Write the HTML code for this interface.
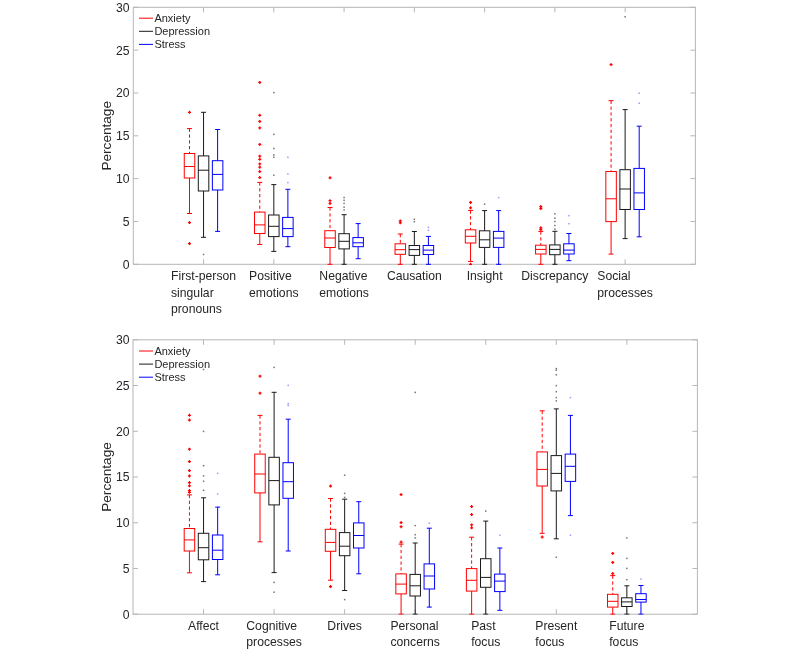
<!DOCTYPE html>
<html><head><meta charset="utf-8"><style>
html,body{margin:0;padding:0;background:#fff;}
body{width:800px;height:651px;overflow:hidden;}
svg{display:block;will-change:transform;font-family:"Liberation Sans",sans-serif;}
</style></head><body>
<svg width="800" height="651" viewBox="0 0 800 651">
<rect width="800" height="651" fill="#fff"/>
<g stroke="#b6b6b6" stroke-width="1.0" fill="none"><line x1="133.3" y1="264.3" x2="138.3" y2="264.3"/><line x1="695.4" y1="264.3" x2="690.4" y2="264.3"/><line x1="133.3" y1="221.47" x2="138.3" y2="221.47"/><line x1="695.4" y1="221.47" x2="690.4" y2="221.47"/><line x1="133.3" y1="178.63" x2="138.3" y2="178.63"/><line x1="695.4" y1="178.63" x2="690.4" y2="178.63"/><line x1="133.3" y1="135.8" x2="138.3" y2="135.8"/><line x1="695.4" y1="135.8" x2="690.4" y2="135.8"/><line x1="133.3" y1="92.97" x2="138.3" y2="92.97"/><line x1="695.4" y1="92.97" x2="690.4" y2="92.97"/><line x1="133.3" y1="50.13" x2="138.3" y2="50.13"/><line x1="695.4" y1="50.13" x2="690.4" y2="50.13"/><line x1="133.3" y1="7.3" x2="138.3" y2="7.3"/><line x1="695.4" y1="7.3" x2="690.4" y2="7.3"/><line x1="203.56" y1="264.3" x2="203.56" y2="259.3"/><line x1="203.56" y1="7.3" x2="203.56" y2="12.3"/><line x1="273.82" y1="264.3" x2="273.82" y2="259.3"/><line x1="273.82" y1="7.3" x2="273.82" y2="12.3"/><line x1="344.09" y1="264.3" x2="344.09" y2="259.3"/><line x1="344.09" y1="7.3" x2="344.09" y2="12.3"/><line x1="414.35" y1="264.3" x2="414.35" y2="259.3"/><line x1="414.35" y1="7.3" x2="414.35" y2="12.3"/><line x1="484.61" y1="264.3" x2="484.61" y2="259.3"/><line x1="484.61" y1="7.3" x2="484.61" y2="12.3"/><line x1="554.88" y1="264.3" x2="554.88" y2="259.3"/><line x1="554.88" y1="7.3" x2="554.88" y2="12.3"/><line x1="625.14" y1="264.3" x2="625.14" y2="259.3"/><line x1="625.14" y1="7.3" x2="625.14" y2="12.3"/><rect x="133.3" y="7.3" width="562.1" height="257" fill="none"/></g>
<g fill="#262626" font-size="12.2"><text x="129.6" y="268.7" text-anchor="end">0</text><text x="129.6" y="225.87" text-anchor="end">5</text><text x="129.6" y="183.03" text-anchor="end">10</text><text x="129.6" y="140.2" text-anchor="end">15</text><text x="129.6" y="97.37" text-anchor="end">20</text><text x="129.6" y="54.53" text-anchor="end">25</text><text x="129.6" y="11.7" text-anchor="end">30</text></g>
<g fill="#262626" font-size="12.2"><text x="171.02" y="279.8">First-person</text><text x="171.02" y="296.5">singular</text><text x="171.02" y="313.2">pronouns</text><text x="249.07" y="279.8">Positive</text><text x="249.07" y="296.5">emotions</text><text x="319.34" y="279.8">Negative</text><text x="319.34" y="296.5">emotions</text><text x="386.88" y="279.8">Causation</text><text x="466.64" y="279.8">Insight</text><text x="521.31" y="279.8">Discrepancy</text><text x="597.34" y="279.8">Social</text><text x="597.34" y="296.5">processes</text></g>
<text transform="translate(110.7 135.8) rotate(-90)" text-anchor="middle" fill="#262626" font-size="13.6">Percentage</text>
<g fill="#262626" font-size="11"><line x1="139" y1="18.2" x2="153" y2="18.2" stroke="#ff0000" stroke-width="1"/><text x="154.4" y="21.8">Anxiety</text><line x1="139" y1="31.3" x2="153" y2="31.3" stroke="#1a1a1a" stroke-width="1"/><text x="154.4" y="34.9">Depression</text><line x1="139" y1="44.4" x2="153" y2="44.4" stroke="#0000ff" stroke-width="1"/><text x="154.4" y="48">Stress</text></g>
<clipPath id="clip7"><rect x="133.3" y="6.7" width="562.1" height="258.2"/></clipPath>
<g clip-path="url(#clip7)">
<g stroke="#ff0000" stroke-width="1.0" fill="none"><line x1="189.51" y1="128.6" x2="189.51" y2="153.5" stroke-dasharray="3.3 2.5"/><line x1="187.01" y1="128.6" x2="192.01" y2="128.6"/><rect x="184.26" y="153.5" width="10.5" height="24.5"/><line x1="184.26" y1="166.5" x2="194.76" y2="166.5"/><line x1="189.51" y1="178" x2="189.51" y2="213.5"/><line x1="187.01" y1="213.5" x2="192.01" y2="213.5"/><path d="M188.01 112.3H191.01M189.51 110.8V113.8" stroke-width="1.25"/><path d="M188.01 222.5H191.01M189.51 221V224" stroke-width="1.25"/><path d="M188.01 243.6H191.01M189.51 242.1V245.1" stroke-width="1.25"/></g>
<g stroke="#1a1a1a" stroke-width="1.0" fill="none"><line x1="203.56" y1="112.3" x2="203.56" y2="155.9"/><line x1="201.06" y1="112.3" x2="206.06" y2="112.3"/><rect x="198.31" y="155.9" width="10.5" height="35.1"/><line x1="198.31" y1="170.2" x2="208.81" y2="170.2"/><line x1="203.56" y1="191" x2="203.56" y2="237.3"/><line x1="201.06" y1="237.3" x2="206.06" y2="237.3"/><rect x="202.81" y="253.75" width="1.5" height="1.5" fill="#1a1a1a" stroke="none" opacity="0.6"/></g>
<g stroke="#0000ff" stroke-width="1.0" fill="none"><line x1="217.62" y1="129.5" x2="217.62" y2="160.7"/><line x1="215.12" y1="129.5" x2="220.12" y2="129.5"/><rect x="212.37" y="160.7" width="10.5" height="29.3"/><line x1="212.37" y1="174.4" x2="222.87" y2="174.4"/><line x1="217.62" y1="190" x2="217.62" y2="231.4"/><line x1="215.12" y1="231.4" x2="220.12" y2="231.4"/></g>
<g stroke="#ff0000" stroke-width="1.0" fill="none"><line x1="259.77" y1="182.4" x2="259.77" y2="212.1" stroke-dasharray="3.3 2.5"/><line x1="257.27" y1="182.4" x2="262.27" y2="182.4"/><rect x="254.52" y="212.1" width="10.5" height="21.4"/><line x1="254.52" y1="224.9" x2="265.02" y2="224.9"/><line x1="259.77" y1="233.5" x2="259.77" y2="244.5"/><line x1="257.27" y1="244.5" x2="262.27" y2="244.5"/><path d="M258.27 82.4H261.27M259.77 80.9V83.9" stroke-width="1.25"/><path d="M258.27 115.3H261.27M259.77 113.8V116.8" stroke-width="1.25"/><path d="M258.27 121.4H261.27M259.77 119.9V122.9" stroke-width="1.25"/><path d="M258.27 127.9H261.27M259.77 126.4V129.4" stroke-width="1.25"/><path d="M258.27 144.4H261.27M259.77 142.9V145.9" stroke-width="1.25"/><path d="M258.27 156.2H261.27M259.77 154.7V157.7" stroke-width="1.25"/><path d="M258.27 159.3H261.27M259.77 157.8V160.8" stroke-width="1.25"/><path d="M258.27 163.9H261.27M259.77 162.4V165.4" stroke-width="1.25"/><path d="M258.27 167.2H261.27M259.77 165.7V168.7" stroke-width="1.25"/><path d="M258.27 171.5H261.27M259.77 170V173" stroke-width="1.25"/><path d="M258.27 177.5H261.27M259.77 176V179" stroke-width="1.25"/></g>
<g stroke="#1a1a1a" stroke-width="1.0" fill="none"><line x1="273.82" y1="184.6" x2="273.82" y2="215"/><line x1="271.32" y1="184.6" x2="276.32" y2="184.6"/><rect x="268.57" y="215" width="10.5" height="21.6"/><line x1="268.57" y1="226.3" x2="279.07" y2="226.3"/><line x1="273.82" y1="236.6" x2="273.82" y2="251.4"/><line x1="271.32" y1="251.4" x2="276.32" y2="251.4"/><rect x="273.07" y="91.85" width="1.5" height="1.5" fill="#1a1a1a" stroke="none" opacity="0.6"/><rect x="273.07" y="133.65" width="1.5" height="1.5" fill="#1a1a1a" stroke="none" opacity="0.6"/><rect x="273.07" y="147.75" width="1.5" height="1.5" fill="#1a1a1a" stroke="none" opacity="0.6"/><rect x="273.07" y="154.25" width="1.5" height="1.5" fill="#1a1a1a" stroke="none" opacity="0.6"/><rect x="273.07" y="156.55" width="1.5" height="1.5" fill="#1a1a1a" stroke="none" opacity="0.6"/><rect x="273.07" y="174.55" width="1.5" height="1.5" fill="#1a1a1a" stroke="none" opacity="0.6"/></g>
<g stroke="#0000ff" stroke-width="1.0" fill="none"><line x1="287.88" y1="189.3" x2="287.88" y2="217.4"/><line x1="285.38" y1="189.3" x2="290.38" y2="189.3"/><rect x="282.63" y="217.4" width="10.5" height="19.2"/><line x1="282.63" y1="228.6" x2="293.13" y2="228.6"/><line x1="287.88" y1="236.6" x2="287.88" y2="246.7"/><line x1="285.38" y1="246.7" x2="290.38" y2="246.7"/><rect x="287.13" y="156.55" width="1.5" height="1.5" fill="#0000ff" stroke="none" opacity="0.4"/><rect x="287.13" y="173.25" width="1.5" height="1.5" fill="#0000ff" stroke="none" opacity="0.4"/><rect x="287.13" y="181.85" width="1.5" height="1.5" fill="#0000ff" stroke="none" opacity="0.4"/></g>
<g stroke="#ff0000" stroke-width="1.0" fill="none"><line x1="330.03" y1="207.5" x2="330.03" y2="230.7" stroke-dasharray="3.3 2.5"/><line x1="327.53" y1="207.5" x2="332.53" y2="207.5"/><rect x="324.78" y="230.7" width="10.5" height="16.8"/><line x1="324.78" y1="238" x2="335.28" y2="238"/><line x1="330.03" y1="247.5" x2="330.03" y2="264.3"/><line x1="327.53" y1="264.3" x2="332.53" y2="264.3"/><path d="M328.53 177.8H331.53M330.03 176.3V179.3" stroke-width="1.25"/><path d="M328.53 200.7H331.53M330.03 199.2V202.2" stroke-width="1.25"/><path d="M328.53 203.4H331.53M330.03 201.9V204.9" stroke-width="1.25"/></g>
<g stroke="#1a1a1a" stroke-width="1.0" fill="none"><line x1="344.09" y1="214.7" x2="344.09" y2="233.7"/><line x1="341.59" y1="214.7" x2="346.59" y2="214.7"/><rect x="338.84" y="233.7" width="10.5" height="15.2"/><line x1="338.84" y1="241.3" x2="349.34" y2="241.3"/><line x1="344.09" y1="248.9" x2="344.09" y2="264.3"/><line x1="341.59" y1="264.3" x2="346.59" y2="264.3"/><rect x="343.34" y="196.75" width="1.5" height="1.5" fill="#1a1a1a" stroke="none" opacity="0.6"/><rect x="343.34" y="199.55" width="1.5" height="1.5" fill="#1a1a1a" stroke="none" opacity="0.6"/><rect x="343.34" y="202.65" width="1.5" height="1.5" fill="#1a1a1a" stroke="none" opacity="0.6"/><rect x="343.34" y="206.45" width="1.5" height="1.5" fill="#1a1a1a" stroke="none" opacity="0.6"/><rect x="343.34" y="209.25" width="1.5" height="1.5" fill="#1a1a1a" stroke="none" opacity="0.6"/></g>
<g stroke="#0000ff" stroke-width="1.0" fill="none"><line x1="358.14" y1="223.6" x2="358.14" y2="237.6"/><line x1="355.64" y1="223.6" x2="360.64" y2="223.6"/><rect x="352.89" y="237.6" width="10.5" height="9.1"/><line x1="352.89" y1="242.8" x2="363.39" y2="242.8"/><line x1="358.14" y1="246.7" x2="358.14" y2="258.7"/><line x1="355.64" y1="258.7" x2="360.64" y2="258.7"/></g>
<g stroke="#ff0000" stroke-width="1.0" fill="none"><line x1="400.3" y1="234" x2="400.3" y2="243.8" stroke-dasharray="3.3 2.5"/><line x1="397.8" y1="234" x2="402.8" y2="234"/><rect x="395.05" y="243.8" width="10.5" height="10.5"/><line x1="395.05" y1="249.7" x2="405.55" y2="249.7"/><line x1="400.3" y1="254.3" x2="400.3" y2="264.3"/><line x1="397.8" y1="264.3" x2="402.8" y2="264.3"/><path d="M398.8 220.9H401.8M400.3 219.4V222.4" stroke-width="1.25"/><path d="M398.8 222.8H401.8M400.3 221.3V224.3" stroke-width="1.25"/></g>
<g stroke="#1a1a1a" stroke-width="1.0" fill="none"><line x1="414.35" y1="231.5" x2="414.35" y2="245.5"/><line x1="411.85" y1="231.5" x2="416.85" y2="231.5"/><rect x="409.1" y="245.5" width="10.5" height="9.9"/><line x1="409.1" y1="249.6" x2="419.6" y2="249.6"/><line x1="414.35" y1="255.4" x2="414.35" y2="264.3"/><line x1="411.85" y1="264.3" x2="416.85" y2="264.3"/><rect x="413.6" y="218.55" width="1.5" height="1.5" fill="#1a1a1a" stroke="none" opacity="0.6"/><rect x="413.6" y="220.95" width="1.5" height="1.5" fill="#1a1a1a" stroke="none" opacity="0.6"/></g>
<g stroke="#0000ff" stroke-width="1.0" fill="none"><line x1="428.4" y1="236.4" x2="428.4" y2="245.5"/><line x1="425.9" y1="236.4" x2="430.9" y2="236.4"/><rect x="423.15" y="245.5" width="10.5" height="9"/><line x1="423.15" y1="250.1" x2="433.65" y2="250.1"/><line x1="428.4" y1="254.5" x2="428.4" y2="264.3"/><line x1="425.9" y1="264.3" x2="430.9" y2="264.3"/><rect x="427.65" y="226.65" width="1.5" height="1.5" fill="#0000ff" stroke="none" opacity="0.4"/><rect x="427.65" y="229.55" width="1.5" height="1.5" fill="#0000ff" stroke="none" opacity="0.4"/></g>
<g stroke="#ff0000" stroke-width="1.0" fill="none"><line x1="470.56" y1="210.4" x2="470.56" y2="229.8" stroke-dasharray="3.3 2.5"/><line x1="468.06" y1="210.4" x2="473.06" y2="210.4"/><rect x="465.31" y="229.8" width="10.5" height="13.2"/><line x1="465.31" y1="236.3" x2="475.81" y2="236.3"/><line x1="470.56" y1="243" x2="470.56" y2="261.4"/><line x1="468.06" y1="261.4" x2="473.06" y2="261.4"/><path d="M469.06 202.4H472.06M470.56 200.9V203.9" stroke-width="1.25"/><path d="M469.06 207.8H472.06M470.56 206.3V209.3" stroke-width="1.25"/><path d="M469.06 264.3H472.06M470.56 262.8V265.8" stroke-width="1.25"/></g>
<g stroke="#1a1a1a" stroke-width="1.0" fill="none"><line x1="484.61" y1="210.6" x2="484.61" y2="230.8"/><line x1="482.11" y1="210.6" x2="487.11" y2="210.6"/><rect x="479.36" y="230.8" width="10.5" height="16.6"/><line x1="479.36" y1="239.8" x2="489.86" y2="239.8"/><line x1="484.61" y1="247.4" x2="484.61" y2="264.3"/><line x1="482.11" y1="264.3" x2="487.11" y2="264.3"/><rect x="483.86" y="203.45" width="1.5" height="1.5" fill="#1a1a1a" stroke="none" opacity="0.6"/></g>
<g stroke="#0000ff" stroke-width="1.0" fill="none"><line x1="498.66" y1="210.6" x2="498.66" y2="231.4"/><line x1="496.16" y1="210.6" x2="501.16" y2="210.6"/><rect x="493.41" y="231.4" width="10.5" height="16"/><line x1="493.41" y1="238.1" x2="503.91" y2="238.1"/><line x1="498.66" y1="247.4" x2="498.66" y2="264.3"/><line x1="496.16" y1="264.3" x2="501.16" y2="264.3"/><rect x="497.91" y="196.85" width="1.5" height="1.5" fill="#0000ff" stroke="none" opacity="0.4"/></g>
<g stroke="#ff0000" stroke-width="1.0" fill="none"><line x1="540.82" y1="231.4" x2="540.82" y2="245.2" stroke-dasharray="3.3 2.5"/><line x1="538.32" y1="231.4" x2="543.32" y2="231.4"/><rect x="535.57" y="245.2" width="10.5" height="8.8"/><line x1="535.57" y1="249.4" x2="546.07" y2="249.4"/><line x1="540.82" y1="254" x2="540.82" y2="264.3"/><line x1="538.32" y1="264.3" x2="543.32" y2="264.3"/><path d="M539.32 206.5H542.32M540.82 205V208" stroke-width="1.25"/><path d="M539.32 208.5H542.32M540.82 207V210" stroke-width="1.25"/><path d="M539.32 227.8H542.32M540.82 226.3V229.3" stroke-width="1.25"/><path d="M539.32 229.5H542.32M540.82 228V231" stroke-width="1.25"/></g>
<g stroke="#1a1a1a" stroke-width="1.0" fill="none"><line x1="554.88" y1="231.3" x2="554.88" y2="244.9"/><line x1="552.38" y1="231.3" x2="557.38" y2="231.3"/><rect x="549.62" y="244.9" width="10.5" height="9.8"/><line x1="549.62" y1="249.4" x2="560.12" y2="249.4"/><line x1="554.88" y1="254.7" x2="554.88" y2="264.3"/><line x1="552.38" y1="264.3" x2="557.38" y2="264.3"/><rect x="554.12" y="213.05" width="1.5" height="1.5" fill="#1a1a1a" stroke="none" opacity="0.6"/><rect x="554.12" y="217.45" width="1.5" height="1.5" fill="#1a1a1a" stroke="none" opacity="0.6"/><rect x="554.12" y="220.75" width="1.5" height="1.5" fill="#1a1a1a" stroke="none" opacity="0.6"/><rect x="554.12" y="224.75" width="1.5" height="1.5" fill="#1a1a1a" stroke="none" opacity="0.6"/><rect x="554.12" y="228.45" width="1.5" height="1.5" fill="#1a1a1a" stroke="none" opacity="0.6"/></g>
<g stroke="#0000ff" stroke-width="1.0" fill="none"><line x1="568.93" y1="233.5" x2="568.93" y2="243.8"/><line x1="566.43" y1="233.5" x2="571.43" y2="233.5"/><rect x="563.68" y="243.8" width="10.5" height="10.2"/><line x1="563.68" y1="250.1" x2="574.18" y2="250.1"/><line x1="568.93" y1="254" x2="568.93" y2="260.7"/><line x1="566.43" y1="260.7" x2="571.43" y2="260.7"/><rect x="568.18" y="214.95" width="1.5" height="1.5" fill="#0000ff" stroke="none" opacity="0.4"/><rect x="568.18" y="222.95" width="1.5" height="1.5" fill="#0000ff" stroke="none" opacity="0.4"/></g>
<g stroke="#ff0000" stroke-width="1.0" fill="none"><line x1="611.08" y1="100.7" x2="611.08" y2="171.5" stroke-dasharray="3.3 2.5"/><line x1="608.58" y1="100.7" x2="613.58" y2="100.7"/><rect x="605.83" y="171.5" width="10.5" height="50.1"/><line x1="605.83" y1="198.8" x2="616.33" y2="198.8"/><line x1="611.08" y1="221.6" x2="611.08" y2="254.1"/><line x1="608.58" y1="254.1" x2="613.58" y2="254.1"/><path d="M609.58 64.5H612.58M611.08 63V66" stroke-width="1.25"/></g>
<g stroke="#1a1a1a" stroke-width="1.0" fill="none"><line x1="625.14" y1="109.6" x2="625.14" y2="169.7"/><line x1="622.64" y1="109.6" x2="627.64" y2="109.6"/><rect x="619.89" y="169.7" width="10.5" height="39.8"/><line x1="619.89" y1="189" x2="630.39" y2="189"/><line x1="625.14" y1="209.5" x2="625.14" y2="238.6"/><line x1="622.64" y1="238.6" x2="627.64" y2="238.6"/><rect x="624.39" y="16.05" width="1.5" height="1.5" fill="#1a1a1a" stroke="none" opacity="0.6"/></g>
<g stroke="#0000ff" stroke-width="1.0" fill="none"><line x1="639.19" y1="126.2" x2="639.19" y2="168.4"/><line x1="636.69" y1="126.2" x2="641.69" y2="126.2"/><rect x="633.94" y="168.4" width="10.5" height="41.1"/><line x1="633.94" y1="192.9" x2="644.44" y2="192.9"/><line x1="639.19" y1="209.5" x2="639.19" y2="236.8"/><line x1="636.69" y1="236.8" x2="641.69" y2="236.8"/><rect x="638.44" y="92.45" width="1.5" height="1.5" fill="#0000ff" stroke="none" opacity="0.4"/><rect x="638.44" y="102.45" width="1.5" height="1.5" fill="#0000ff" stroke="none" opacity="0.4"/></g>
</g>
<g stroke="#b6b6b6" stroke-width="1.0" fill="none"><line x1="133" y1="614.2" x2="138" y2="614.2"/><line x1="697.4" y1="614.2" x2="692.4" y2="614.2"/><line x1="133" y1="568.47" x2="138" y2="568.47"/><line x1="697.4" y1="568.47" x2="692.4" y2="568.47"/><line x1="133" y1="522.73" x2="138" y2="522.73"/><line x1="697.4" y1="522.73" x2="692.4" y2="522.73"/><line x1="133" y1="477" x2="138" y2="477"/><line x1="697.4" y1="477" x2="692.4" y2="477"/><line x1="133" y1="431.27" x2="138" y2="431.27"/><line x1="697.4" y1="431.27" x2="692.4" y2="431.27"/><line x1="133" y1="385.53" x2="138" y2="385.53"/><line x1="697.4" y1="385.53" x2="692.4" y2="385.53"/><line x1="133" y1="339.8" x2="138" y2="339.8"/><line x1="697.4" y1="339.8" x2="692.4" y2="339.8"/><line x1="203.55" y1="614.2" x2="203.55" y2="609.2"/><line x1="203.55" y1="339.8" x2="203.55" y2="344.8"/><line x1="274.1" y1="614.2" x2="274.1" y2="609.2"/><line x1="274.1" y1="339.8" x2="274.1" y2="344.8"/><line x1="344.65" y1="614.2" x2="344.65" y2="609.2"/><line x1="344.65" y1="339.8" x2="344.65" y2="344.8"/><line x1="415.2" y1="614.2" x2="415.2" y2="609.2"/><line x1="415.2" y1="339.8" x2="415.2" y2="344.8"/><line x1="485.75" y1="614.2" x2="485.75" y2="609.2"/><line x1="485.75" y1="339.8" x2="485.75" y2="344.8"/><line x1="556.3" y1="614.2" x2="556.3" y2="609.2"/><line x1="556.3" y1="339.8" x2="556.3" y2="344.8"/><line x1="626.85" y1="614.2" x2="626.85" y2="609.2"/><line x1="626.85" y1="339.8" x2="626.85" y2="344.8"/><rect x="133" y="339.8" width="564.4" height="274.4" fill="none"/></g>
<g fill="#262626" font-size="12.2"><text x="129.6" y="618.6" text-anchor="end">0</text><text x="129.6" y="572.87" text-anchor="end">5</text><text x="129.6" y="527.13" text-anchor="end">10</text><text x="129.6" y="481.4" text-anchor="end">15</text><text x="129.6" y="435.67" text-anchor="end">20</text><text x="129.6" y="389.93" text-anchor="end">25</text><text x="129.6" y="344.2" text-anchor="end">30</text></g>
<g fill="#262626" font-size="12.2"><text x="188.06" y="629.7">Affect</text><text x="246.3" y="629.7">Cognitive</text><text x="246.3" y="646.4">processes</text><text x="327.37" y="629.7">Drives</text><text x="390.45" y="629.7">Personal</text><text x="390.45" y="646.4">concerns</text><text x="471.17" y="629.7">Past</text><text x="471.17" y="646.4">focus</text><text x="535.28" y="629.7">Present</text><text x="535.28" y="646.4">focus</text><text x="609.22" y="629.7">Future</text><text x="609.22" y="646.4">focus</text></g>
<text transform="translate(110.7 477) rotate(-90)" text-anchor="middle" fill="#262626" font-size="13.6">Percentage</text>
<g fill="#262626" font-size="11"><line x1="139" y1="351" x2="153" y2="351" stroke="#ff0000" stroke-width="1"/><text x="154.4" y="354.6">Anxiety</text><line x1="139" y1="364.1" x2="153" y2="364.1" stroke="#1a1a1a" stroke-width="1"/><text x="154.4" y="367.7">Depression</text><line x1="139" y1="377.2" x2="153" y2="377.2" stroke="#0000ff" stroke-width="1"/><text x="154.4" y="380.8">Stress</text></g>
<clipPath id="clip339"><rect x="133" y="339.2" width="564.4" height="275.6"/></clipPath>
<g clip-path="url(#clip339)">
<g stroke="#ff0000" stroke-width="1.0" fill="none"><line x1="189.44" y1="494.9" x2="189.44" y2="528.5" stroke-dasharray="3.3 2.5"/><line x1="186.94" y1="494.9" x2="191.94" y2="494.9"/><rect x="184.19" y="528.5" width="10.5" height="22.5"/><line x1="184.19" y1="539.9" x2="194.69" y2="539.9"/><line x1="189.44" y1="551" x2="189.44" y2="572.8"/><line x1="186.94" y1="572.8" x2="191.94" y2="572.8"/><path d="M187.94 415.3H190.94M189.44 413.8V416.8" stroke-width="1.25"/><path d="M187.94 420.1H190.94M189.44 418.6V421.6" stroke-width="1.25"/><path d="M187.94 449.2H190.94M189.44 447.7V450.7" stroke-width="1.25"/><path d="M187.94 461.6H190.94M189.44 460.1V463.1" stroke-width="1.25"/><path d="M187.94 470.5H190.94M189.44 469V472" stroke-width="1.25"/><path d="M187.94 475.9H190.94M189.44 474.4V477.4" stroke-width="1.25"/><path d="M187.94 482.6H190.94M189.44 481.1V484.1" stroke-width="1.25"/><path d="M187.94 485.8H190.94M189.44 484.3V487.3" stroke-width="1.25"/><path d="M187.94 490.6H190.94M189.44 489.1V492.1" stroke-width="1.25"/><path d="M187.94 492.3H190.94M189.44 490.8V493.8" stroke-width="1.25"/></g>
<g stroke="#1a1a1a" stroke-width="1.0" fill="none"><line x1="203.55" y1="497.8" x2="203.55" y2="533.3"/><line x1="201.05" y1="497.8" x2="206.05" y2="497.8"/><rect x="198.3" y="533.3" width="10.5" height="26.5"/><line x1="198.3" y1="547.7" x2="208.8" y2="547.7"/><line x1="203.55" y1="559.8" x2="203.55" y2="581.6"/><line x1="201.05" y1="581.6" x2="206.05" y2="581.6"/><rect x="202.8" y="368.75" width="1.5" height="1.5" fill="#1a1a1a" stroke="none" opacity="0.6"/><rect x="202.8" y="430.65" width="1.5" height="1.5" fill="#1a1a1a" stroke="none" opacity="0.6"/><rect x="202.8" y="464.95" width="1.5" height="1.5" fill="#1a1a1a" stroke="none" opacity="0.6"/><rect x="202.8" y="475.15" width="1.5" height="1.5" fill="#1a1a1a" stroke="none" opacity="0.6"/><rect x="202.8" y="480.55" width="1.5" height="1.5" fill="#1a1a1a" stroke="none" opacity="0.6"/><rect x="202.8" y="489.55" width="1.5" height="1.5" fill="#1a1a1a" stroke="none" opacity="0.6"/></g>
<g stroke="#0000ff" stroke-width="1.0" fill="none"><line x1="217.66" y1="507.1" x2="217.66" y2="535"/><line x1="215.16" y1="507.1" x2="220.16" y2="507.1"/><rect x="212.41" y="535" width="10.5" height="24.5"/><line x1="212.41" y1="550.2" x2="222.91" y2="550.2"/><line x1="217.66" y1="559.5" x2="217.66" y2="574.8"/><line x1="215.16" y1="574.8" x2="220.16" y2="574.8"/><rect x="216.91" y="472.65" width="1.5" height="1.5" fill="#0000ff" stroke="none" opacity="0.4"/><rect x="216.91" y="493.15" width="1.5" height="1.5" fill="#0000ff" stroke="none" opacity="0.4"/></g>
<g stroke="#ff0000" stroke-width="1.0" fill="none"><line x1="259.99" y1="415.4" x2="259.99" y2="454.1" stroke-dasharray="3.3 2.5"/><line x1="257.49" y1="415.4" x2="262.49" y2="415.4"/><rect x="254.74" y="454.1" width="10.5" height="38.8"/><line x1="254.74" y1="474" x2="265.24" y2="474"/><line x1="259.99" y1="492.9" x2="259.99" y2="541.8"/><line x1="257.49" y1="541.8" x2="262.49" y2="541.8"/><path d="M258.49 376.2H261.49M259.99 374.7V377.7" stroke-width="1.25"/><path d="M258.49 393.2H261.49M259.99 391.7V394.7" stroke-width="1.25"/></g>
<g stroke="#1a1a1a" stroke-width="1.0" fill="none"><line x1="274.1" y1="392.3" x2="274.1" y2="457.3"/><line x1="271.6" y1="392.3" x2="276.6" y2="392.3"/><rect x="268.85" y="457.3" width="10.5" height="47.6"/><line x1="268.85" y1="480.6" x2="279.35" y2="480.6"/><line x1="274.1" y1="504.9" x2="274.1" y2="572.6"/><line x1="271.6" y1="572.6" x2="276.6" y2="572.6"/><rect x="273.35" y="366.65" width="1.5" height="1.5" fill="#1a1a1a" stroke="none" opacity="0.6"/><rect x="273.35" y="581.65" width="1.5" height="1.5" fill="#1a1a1a" stroke="none" opacity="0.6"/><rect x="273.35" y="591.45" width="1.5" height="1.5" fill="#1a1a1a" stroke="none" opacity="0.6"/></g>
<g stroke="#0000ff" stroke-width="1.0" fill="none"><line x1="288.21" y1="419.2" x2="288.21" y2="462.7"/><line x1="285.71" y1="419.2" x2="290.71" y2="419.2"/><rect x="282.96" y="462.7" width="10.5" height="35.6"/><line x1="282.96" y1="481.7" x2="293.46" y2="481.7"/><line x1="288.21" y1="498.3" x2="288.21" y2="551"/><line x1="285.71" y1="551" x2="290.71" y2="551"/><rect x="287.46" y="384.65" width="1.5" height="1.5" fill="#0000ff" stroke="none" opacity="0.4"/><rect x="287.46" y="402.85" width="1.5" height="1.5" fill="#0000ff" stroke="none" opacity="0.4"/><rect x="287.46" y="404.75" width="1.5" height="1.5" fill="#0000ff" stroke="none" opacity="0.4"/></g>
<g stroke="#ff0000" stroke-width="1.0" fill="none"><line x1="330.54" y1="498.5" x2="330.54" y2="529.3" stroke-dasharray="3.3 2.5"/><line x1="328.04" y1="498.5" x2="333.04" y2="498.5"/><rect x="325.29" y="529.3" width="10.5" height="22"/><line x1="325.29" y1="542.4" x2="335.79" y2="542.4"/><line x1="330.54" y1="551.3" x2="330.54" y2="580.2"/><line x1="328.04" y1="580.2" x2="333.04" y2="580.2"/><path d="M329.04 486.1H332.04M330.54 484.6V487.6" stroke-width="1.25"/><path d="M329.04 586.6H332.04M330.54 585.1V588.1" stroke-width="1.25"/></g>
<g stroke="#1a1a1a" stroke-width="1.0" fill="none"><line x1="344.65" y1="499.2" x2="344.65" y2="532.6"/><line x1="342.15" y1="499.2" x2="347.15" y2="499.2"/><rect x="339.4" y="532.6" width="10.5" height="23.1"/><line x1="339.4" y1="546.2" x2="349.9" y2="546.2"/><line x1="344.65" y1="555.7" x2="344.65" y2="590.5"/><line x1="342.15" y1="590.5" x2="347.15" y2="590.5"/><rect x="343.9" y="474.45" width="1.5" height="1.5" fill="#1a1a1a" stroke="none" opacity="0.6"/><rect x="343.9" y="492.65" width="1.5" height="1.5" fill="#1a1a1a" stroke="none" opacity="0.6"/><rect x="343.9" y="496.65" width="1.5" height="1.5" fill="#1a1a1a" stroke="none" opacity="0.6"/><rect x="343.9" y="598.85" width="1.5" height="1.5" fill="#1a1a1a" stroke="none" opacity="0.6"/></g>
<g stroke="#0000ff" stroke-width="1.0" fill="none"><line x1="358.76" y1="501.7" x2="358.76" y2="522.9"/><line x1="356.26" y1="501.7" x2="361.26" y2="501.7"/><rect x="353.51" y="522.9" width="10.5" height="25.1"/><line x1="353.51" y1="535.5" x2="364.01" y2="535.5"/><line x1="358.76" y1="548" x2="358.76" y2="573.8"/><line x1="356.26" y1="573.8" x2="361.26" y2="573.8"/></g>
<g stroke="#ff0000" stroke-width="1.0" fill="none"><line x1="401.09" y1="544.1" x2="401.09" y2="573.9" stroke-dasharray="3.3 2.5"/><line x1="398.59" y1="544.1" x2="403.59" y2="544.1"/><rect x="395.84" y="573.9" width="10.5" height="20"/><line x1="395.84" y1="584.1" x2="406.34" y2="584.1"/><line x1="401.09" y1="593.9" x2="401.09" y2="614.2"/><line x1="398.59" y1="614.2" x2="403.59" y2="614.2"/><path d="M399.59 494.5H402.59M401.09 493V496" stroke-width="1.25"/><path d="M399.59 522.6H402.59M401.09 521.1V524.1" stroke-width="1.25"/><path d="M399.59 526.7H402.59M401.09 525.2V528.2" stroke-width="1.25"/><path d="M399.59 542H402.59M401.09 540.5V543.5" stroke-width="1.25"/></g>
<g stroke="#1a1a1a" stroke-width="1.0" fill="none"><line x1="415.2" y1="543" x2="415.2" y2="574.4"/><line x1="412.7" y1="543" x2="417.7" y2="543"/><rect x="409.95" y="574.4" width="10.5" height="21.6"/><line x1="409.95" y1="585.8" x2="420.45" y2="585.8"/><line x1="415.2" y1="596" x2="415.2" y2="614.2"/><line x1="412.7" y1="614.2" x2="417.7" y2="614.2"/><rect x="414.45" y="391.65" width="1.5" height="1.5" fill="#1a1a1a" stroke="none" opacity="0.6"/><rect x="414.45" y="524.85" width="1.5" height="1.5" fill="#1a1a1a" stroke="none" opacity="0.6"/><rect x="414.45" y="533.95" width="1.5" height="1.5" fill="#1a1a1a" stroke="none" opacity="0.6"/><rect x="414.45" y="537.15" width="1.5" height="1.5" fill="#1a1a1a" stroke="none" opacity="0.6"/></g>
<g stroke="#0000ff" stroke-width="1.0" fill="none"><line x1="429.31" y1="528.2" x2="429.31" y2="563.9"/><line x1="426.81" y1="528.2" x2="431.81" y2="528.2"/><rect x="424.06" y="563.9" width="10.5" height="25.1"/><line x1="424.06" y1="576" x2="434.56" y2="576"/><line x1="429.31" y1="589" x2="429.31" y2="607.1"/><line x1="426.81" y1="607.1" x2="431.81" y2="607.1"/><rect x="428.56" y="522.45" width="1.5" height="1.5" fill="#0000ff" stroke="none" opacity="0.4"/></g>
<g stroke="#ff0000" stroke-width="1.0" fill="none"><line x1="471.64" y1="537.2" x2="471.64" y2="568.6" stroke-dasharray="3.3 2.5"/><line x1="469.14" y1="537.2" x2="474.14" y2="537.2"/><rect x="466.39" y="568.6" width="10.5" height="22.5"/><line x1="466.39" y1="580.3" x2="476.89" y2="580.3"/><line x1="471.64" y1="591.1" x2="471.64" y2="614.2"/><line x1="469.14" y1="614.2" x2="474.14" y2="614.2"/><path d="M470.14 506.6H473.14M471.64 505.1V508.1" stroke-width="1.25"/><path d="M470.14 514.6H473.14M471.64 513.1V516.1" stroke-width="1.25"/><path d="M470.14 524.9H473.14M471.64 523.4V526.4" stroke-width="1.25"/><path d="M470.14 527.8H473.14M471.64 526.3V529.3" stroke-width="1.25"/></g>
<g stroke="#1a1a1a" stroke-width="1.0" fill="none"><line x1="485.75" y1="521.1" x2="485.75" y2="558.7"/><line x1="483.25" y1="521.1" x2="488.25" y2="521.1"/><rect x="480.5" y="558.7" width="10.5" height="28.6"/><line x1="480.5" y1="577.4" x2="491" y2="577.4"/><line x1="485.75" y1="587.3" x2="485.75" y2="614.2"/><line x1="483.25" y1="614.2" x2="488.25" y2="614.2"/><rect x="485" y="510.35" width="1.5" height="1.5" fill="#1a1a1a" stroke="none" opacity="0.6"/></g>
<g stroke="#0000ff" stroke-width="1.0" fill="none"><line x1="499.86" y1="548" x2="499.86" y2="574.1"/><line x1="497.36" y1="548" x2="502.36" y2="548"/><rect x="494.61" y="574.1" width="10.5" height="17.5"/><line x1="494.61" y1="581.1" x2="505.11" y2="581.1"/><line x1="499.86" y1="591.6" x2="499.86" y2="610.3"/><line x1="497.36" y1="610.3" x2="502.36" y2="610.3"/><rect x="499.11" y="534.55" width="1.5" height="1.5" fill="#0000ff" stroke="none" opacity="0.4"/></g>
<g stroke="#ff0000" stroke-width="1.0" fill="none"><line x1="542.19" y1="410.8" x2="542.19" y2="451.9" stroke-dasharray="3.3 2.5"/><line x1="539.69" y1="410.8" x2="544.69" y2="410.8"/><rect x="536.94" y="451.9" width="10.5" height="34.1"/><line x1="536.94" y1="469.4" x2="547.44" y2="469.4"/><line x1="542.19" y1="486" x2="542.19" y2="533.3"/><line x1="539.69" y1="533.3" x2="544.69" y2="533.3"/><path d="M540.69 537H543.69M542.19 535.5V538.5" stroke-width="1.25"/></g>
<g stroke="#1a1a1a" stroke-width="1.0" fill="none"><line x1="556.3" y1="408.9" x2="556.3" y2="455.6"/><line x1="553.8" y1="408.9" x2="558.8" y2="408.9"/><rect x="551.05" y="455.6" width="10.5" height="35.3"/><line x1="551.05" y1="473.4" x2="561.55" y2="473.4"/><line x1="556.3" y1="490.9" x2="556.3" y2="538.8"/><line x1="553.8" y1="538.8" x2="558.8" y2="538.8"/><rect x="555.55" y="367.85" width="1.5" height="1.5" fill="#1a1a1a" stroke="none" opacity="0.6"/><rect x="555.55" y="369.45" width="1.5" height="1.5" fill="#1a1a1a" stroke="none" opacity="0.6"/><rect x="555.55" y="374.05" width="1.5" height="1.5" fill="#1a1a1a" stroke="none" opacity="0.6"/><rect x="555.55" y="384.85" width="1.5" height="1.5" fill="#1a1a1a" stroke="none" opacity="0.6"/><rect x="555.55" y="390.95" width="1.5" height="1.5" fill="#1a1a1a" stroke="none" opacity="0.6"/><rect x="555.55" y="396.85" width="1.5" height="1.5" fill="#1a1a1a" stroke="none" opacity="0.6"/><rect x="555.55" y="400.15" width="1.5" height="1.5" fill="#1a1a1a" stroke="none" opacity="0.6"/><rect x="555.55" y="556.55" width="1.5" height="1.5" fill="#1a1a1a" stroke="none" opacity="0.6"/></g>
<g stroke="#0000ff" stroke-width="1.0" fill="none"><line x1="570.41" y1="415.4" x2="570.41" y2="454.1"/><line x1="567.91" y1="415.4" x2="572.91" y2="415.4"/><rect x="565.16" y="454.1" width="10.5" height="27.3"/><line x1="565.16" y1="466.3" x2="575.66" y2="466.3"/><line x1="570.41" y1="481.4" x2="570.41" y2="515.6"/><line x1="567.91" y1="515.6" x2="572.91" y2="515.6"/><rect x="569.66" y="396.85" width="1.5" height="1.5" fill="#0000ff" stroke="none" opacity="0.4"/><rect x="569.66" y="534.55" width="1.5" height="1.5" fill="#0000ff" stroke="none" opacity="0.4"/></g>
<g stroke="#ff0000" stroke-width="1.0" fill="none"><line x1="612.74" y1="575.6" x2="612.74" y2="594.3" stroke-dasharray="3.3 2.5"/><line x1="610.24" y1="575.6" x2="615.24" y2="575.6"/><rect x="607.49" y="594.3" width="10.5" height="12.8"/><line x1="607.49" y1="601.3" x2="617.99" y2="601.3"/><line x1="612.74" y1="607.1" x2="612.74" y2="614.2"/><line x1="610.24" y1="614.2" x2="615.24" y2="614.2"/><path d="M611.24 553.4H614.24M612.74 551.9V554.9" stroke-width="1.25"/><path d="M611.24 562.4H614.24M612.74 560.9V563.9" stroke-width="1.25"/><path d="M611.24 573.6H614.24M612.74 572.1V575.1" stroke-width="1.25"/></g>
<g stroke="#1a1a1a" stroke-width="1.0" fill="none"><line x1="626.85" y1="585.8" x2="626.85" y2="597.8"/><line x1="624.35" y1="585.8" x2="629.35" y2="585.8"/><rect x="621.6" y="597.8" width="10.5" height="8.7"/><line x1="621.6" y1="601.9" x2="632.1" y2="601.9"/><line x1="626.85" y1="606.5" x2="626.85" y2="614.2"/><line x1="624.35" y1="614.2" x2="629.35" y2="614.2"/><rect x="626.1" y="537.15" width="1.5" height="1.5" fill="#1a1a1a" stroke="none" opacity="0.6"/><rect x="626.1" y="557.65" width="1.5" height="1.5" fill="#1a1a1a" stroke="none" opacity="0.6"/><rect x="626.1" y="567.65" width="1.5" height="1.5" fill="#1a1a1a" stroke="none" opacity="0.6"/><rect x="626.1" y="578.95" width="1.5" height="1.5" fill="#1a1a1a" stroke="none" opacity="0.6"/></g>
<g stroke="#0000ff" stroke-width="1.0" fill="none"><line x1="640.96" y1="585.5" x2="640.96" y2="593.7"/><line x1="638.46" y1="585.5" x2="643.46" y2="585.5"/><rect x="635.71" y="593.7" width="10.5" height="8.4"/><line x1="635.71" y1="599.5" x2="646.21" y2="599.5"/><line x1="640.96" y1="602.1" x2="640.96" y2="614.2"/><line x1="638.46" y1="614.2" x2="643.46" y2="614.2"/><rect x="640.21" y="578.35" width="1.5" height="1.5" fill="#0000ff" stroke="none" opacity="0.4"/></g>
</g>
</svg>
</body></html>
